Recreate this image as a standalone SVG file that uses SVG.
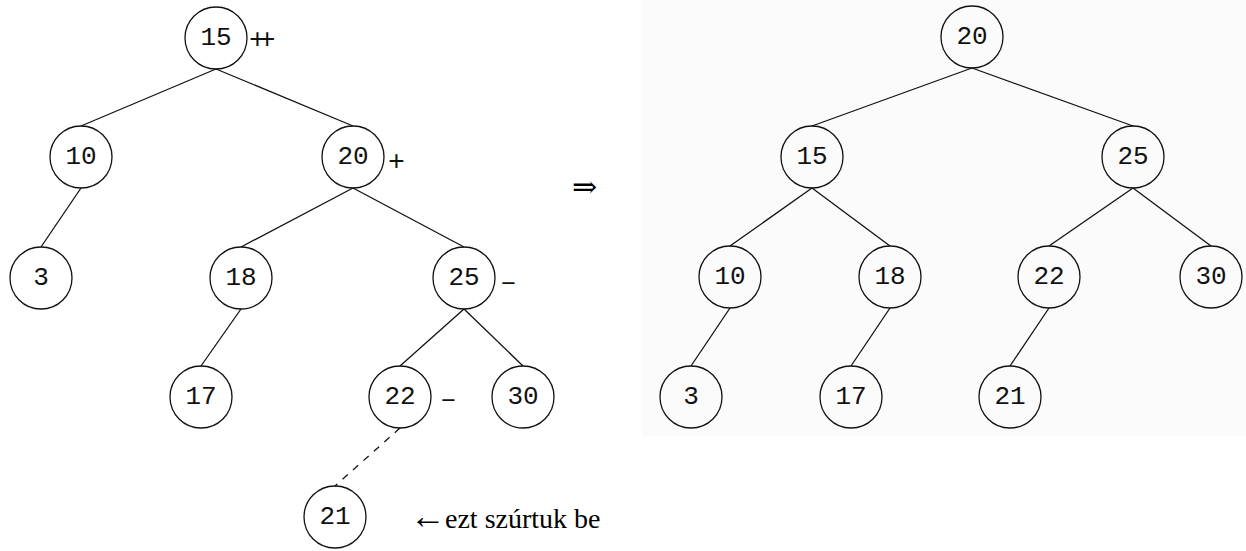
<svg xmlns="http://www.w3.org/2000/svg" width="1246" height="551" viewBox="0 0 1246 551">
  <style>
    .node circle { fill: none; stroke: #111; stroke-width: 1.3; }
    .node text { font-family: "Liberation Mono", "DejaVu Sans Mono", monospace; font-size: 26px; fill: #111; text-anchor: middle; dominant-baseline: central; }
    .edges line { stroke: #111; stroke-width: 1.3; }
    .edges line.dashed { stroke-dasharray: 7 7; }
    .mark { font-family: "Liberation Mono", "DejaVu Sans Mono", monospace; font-size: 28px; fill: #111; }
    .serif { font-family: "Liberation Serif", "DejaVu Serif", serif; fill: #000; }
  </style>
  <rect width="1246" height="551" fill="#ffffff"/>
  <rect x="642" y="0" width="604" height="436" fill="#fbfbfb"/>

  <!-- left tree: after inserting 21 -->
  <g class="edges" id="left-edges">
    <line x1="216" y1="69" x2="81" y2="126"/>
    <line x1="216" y1="69" x2="353" y2="126"/>
    <line x1="81" y1="188" x2="41" y2="247"/>
    <line x1="353" y1="188" x2="241" y2="247"/>
    <line x1="353" y1="188" x2="464" y2="247"/>
    <line x1="241" y1="309" x2="201" y2="366"/>
    <line x1="464" y1="309" x2="400" y2="366"/>
    <line x1="464" y1="309" x2="523" y2="366"/>
    <line class="dashed" x1="400" y1="428" x2="335" y2="486"/>
  </g>
  <g class="node" id="l15"><circle cx="216" cy="38" r="31"/><text x="216" y="38">15</text></g>
  <g class="node" id="l10"><circle cx="81" cy="157" r="31"/><text x="81" y="157">10</text></g>
  <g class="node" id="l20"><circle cx="353" cy="157" r="31"/><text x="353" y="157">20</text></g>
  <g class="node" id="l3"><circle cx="41" cy="278" r="31"/><text x="41" y="278">3</text></g>
  <g class="node" id="l18"><circle cx="241" cy="278" r="31"/><text x="241" y="278">18</text></g>
  <g class="node" id="l25"><circle cx="464" cy="278" r="31"/><text x="464" y="278">25</text></g>
  <g class="node" id="l17"><circle cx="201" cy="397" r="31"/><text x="201" y="397">17</text></g>
  <g class="node" id="l22"><circle cx="400" cy="397" r="31"/><text x="400" y="397">22</text></g>
  <g class="node" id="l30"><circle cx="523" cy="397" r="31"/><text x="523" y="397">30</text></g>
  <g class="node" id="l21"><circle cx="335" cy="517" r="31"/><text x="335" y="517">21</text></g>

  <!-- balance marks -->
  <text class="mark" x="249" y="48" letter-spacing="-7">++</text>
  <text class="mark" x="388" y="170">+</text>
  <text class="mark" x="500" y="290">–</text>
  <text class="mark" x="440" y="407">–</text>

  <text class="serif" x="572" y="197" font-size="30">⇒</text>
  <text class="serif" x="410" y="528" font-size="36">←</text>
  <text class="serif" x="445" y="528" font-size="28">ezt szúrtuk be</text>

  <!-- right tree: after rotation -->
  <g class="edges" id="right-edges">
    <line x1="972" y1="68" x2="812" y2="126"/>
    <line x1="972" y1="68" x2="1133" y2="126"/>
    <line x1="812" y1="188" x2="730" y2="246"/>
    <line x1="812" y1="188" x2="890" y2="246"/>
    <line x1="1133" y1="188" x2="1049" y2="246"/>
    <line x1="1133" y1="188" x2="1211" y2="246"/>
    <line x1="730" y1="308" x2="691" y2="366"/>
    <line x1="890" y1="308" x2="851" y2="366"/>
    <line x1="1049" y1="308" x2="1010" y2="366"/>
  </g>
  <g class="node" id="r20"><circle cx="972" cy="37" r="31"/><text x="972" y="37">20</text></g>
  <g class="node" id="r15"><circle cx="812" cy="157" r="31"/><text x="812" y="157">15</text></g>
  <g class="node" id="r25"><circle cx="1133" cy="157" r="31"/><text x="1133" y="157">25</text></g>
  <g class="node" id="r10"><circle cx="730" cy="277" r="31"/><text x="730" y="277">10</text></g>
  <g class="node" id="r18"><circle cx="890" cy="277" r="31"/><text x="890" y="277">18</text></g>
  <g class="node" id="r22"><circle cx="1049" cy="277" r="31"/><text x="1049" y="277">22</text></g>
  <g class="node" id="r30"><circle cx="1211" cy="277" r="31"/><text x="1211" y="277">30</text></g>
  <g class="node" id="r3"><circle cx="691" cy="397" r="31"/><text x="691" y="397">3</text></g>
  <g class="node" id="r17"><circle cx="851" cy="397" r="31"/><text x="851" y="397">17</text></g>
  <g class="node" id="r21"><circle cx="1010" cy="397" r="31"/><text x="1010" y="397">21</text></g>
</svg>
